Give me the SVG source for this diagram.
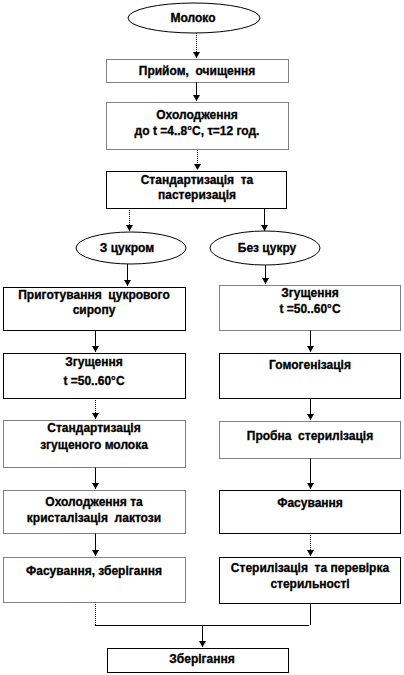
<svg xmlns="http://www.w3.org/2000/svg" width="404" height="675" viewBox="0 0 404 675">
<defs>
<marker id="ah" markerUnits="userSpaceOnUse" markerWidth="8" markerHeight="8" refX="6" refY="3.5" orient="auto">
<path d="M0,0 L6,3.5 L0,7 z" fill="#000"/>
</marker>
<style>
.box{fill:#fff;stroke:#000;stroke-width:1}
.dot{stroke-dasharray:1 1}
.ell{fill:#fff;stroke:#000;stroke-width:1}
.t{font-family:"Liberation Sans",Arial,sans-serif;font-weight:bold;font-size:12px;text-anchor:middle;fill:#000;stroke:#000;stroke-width:0.3;white-space:pre}
.c{fill:none;stroke:#000;stroke-width:1}
.ca{fill:none;stroke:#000;stroke-width:1;marker-end:url(#ah)}
</style>
</defs>
<rect width="404" height="675" fill="#fff"/>

<g id="connectors">
<path class="ca dot" d="M196.5,33 V58"/>
<path class="ca" d="M196.5,82 V101"/>
<path class="ca dot" d="M197.5,150 V170"/>
<path class="ca dot" d="M129.5,208 V231"/>
<path class="ca" d="M264.5,208 V231"/>
<path class="ca" d="M127.5,264 V286"/>
<path class="ca" d="M265.5,265 V284"/>
<path class="ca" d="M95.5,330 V352"/>
<path class="ca dot" d="M95.5,398 V419"/>
<path class="ca" d="M95.5,467 V489"/>
<path class="ca" d="M95.5,533 V556"/>
<path class="ca" d="M310.5,330 V352"/>
<path class="ca" d="M310.5,398 V420"/>
<path class="ca" d="M310.5,458 V489"/>
<path class="ca dot" d="M310.5,533 V556"/>
<path class="c dot" d="M95.5,602 V625"/>
<path class="c" d="M310.5,603 V625"/>
<path class="c" d="M95,625.5 H309"/>
<path class="ca" d="M202.5,625 V647"/>
</g>

<g id="n-moloko"><ellipse class="ell" cx="194" cy="18" rx="66" ry="15"/><text class="t" x="193" y="22">Молоко</text></g>
<g id="n-pryiom"><rect class="box dot" x="106.5" y="59.5" width="182" height="23"/><text class="t" x="197" y="75">Прийом,  очищення</text></g>
<g id="n-okholodzhennia"><rect class="box dot" x="106.5" y="102.5" width="182" height="47"/><text class="t" x="197" y="119">Охолодження</text><text class="t" x="197" y="135">до t =4..8°C, τ=12 год.</text></g>
<g id="n-standart"><rect class="box" x="106.5" y="171.5" width="180" height="37"/><text class="t" x="197" y="184">Стандартизація  та</text><text class="t" x="197" y="199">пастеризація</text></g>

<g id="n-z-tsukrom"><ellipse class="ell" cx="131" cy="248" rx="55" ry="16"/><text class="t" x="127" y="252">З цукром</text></g>
<g id="n-bez-tsukru"><ellipse class="ell" cx="265" cy="248" rx="55" ry="17"/><text class="t" x="267" y="252">Без цукру</text></g>

<g id="n-l1"><rect class="box" x="3.5" y="287.5" width="182" height="43"/><text class="t" x="94" y="299">Приготування  цукрового</text><text class="t" x="94" y="314">сиропу</text></g>
<g id="n-l2"><rect class="box" x="3.5" y="353.5" width="182" height="45"/><text class="t" x="94" y="366">Згущення</text><text class="t" x="94" y="385">t =50..60°C</text></g>
<g id="n-l3"><rect class="box dot" x="3.5" y="420.5" width="182" height="47"/><text class="t" x="94" y="432">Стандартизація</text><text class="t" x="94" y="449">згущеного молока</text></g>
<g id="n-l4"><rect class="box dot" x="3.5" y="490.5" width="182" height="43"/><text class="t" x="94" y="506">Охолодження та</text><text class="t" x="94" y="522">кристалізація  лактози</text></g>
<g id="n-l5"><rect class="box dot" x="3.5" y="557.5" width="182" height="45"/><text class="t" x="94" y="575">Фасування, зберігання</text></g>

<g id="n-r1"><rect class="box dot" x="219.5" y="285.5" width="181" height="45"/><text class="t" x="310" y="297">Згущення</text><text class="t" x="310" y="313">t =50..60°C</text></g>
<g id="n-r2"><rect class="box" x="219.5" y="353.5" width="181" height="45"/><text class="t" x="310" y="369">Гомогенізація</text></g>
<g id="n-r3"><rect class="box dot" x="219.5" y="421.5" width="181" height="37"/><text class="t" x="310" y="440">Пробна  стерилізація</text></g>
<g id="n-r4"><rect class="box" x="219.5" y="490.5" width="181" height="43"/><text class="t" x="310" y="507">Фасування</text></g>
<g id="n-r5"><rect class="box" x="219.5" y="557.5" width="181" height="46"/><text class="t" x="310" y="572">Стерилізація  та перевірка</text><text class="t" x="310" y="588">стерильності</text></g>

<g id="n-zberigannia"><rect class="box" x="107.5" y="648.5" width="181" height="24"/><text class="t" x="202" y="663">Зберігання</text></g>
</svg>
